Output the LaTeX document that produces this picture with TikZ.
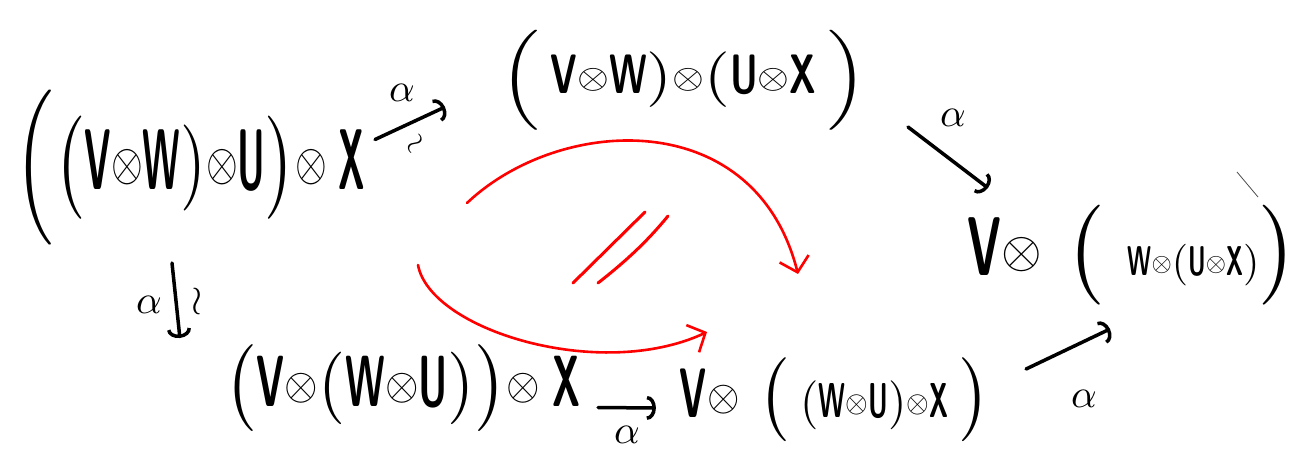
\documentclass[tikz,border=0pt]{standalone}
\usepackage{graphicx}
\usetikzlibrary{arrows.meta,calc}
\newcommand{\nl}[1]{\scalebox{0.55}[1]{\textsf{\bfseries #1}}}
\newcommand{\ot}{\mathord{\vcenter{\hbox{\scalebox{0.62}{$\otimes$}}}}}
\begin{document}
\begin{tikzpicture}[x=1pt,y=-1pt,
  txt/.style={inner sep=0pt, outer sep=0pt},
  arr/.style={line width=3.5pt, line cap=round, -{Arc Barb[length=9pt,width=24pt]}},
  lbl/.style={inner sep=0pt},
  redarr/.style={red, line width=2.6pt, line cap=round, -{Straight Barb[length=14pt,width=30pt]}},
  redline/.style={red, line width=3pt, line cap=round},
  stray/.style={black!70, line width=0.8pt}
]
\useasboundingbox (0,0) rectangle (1312,450);

% objects
\node[txt] (n1) at (190,167.5) {\resizebox*{350pt}{155pt}{$\Bigl(\bigl(\nl{V}\ot\nl{W})\ot\nl{U}\bigr)\ot\,\nl{X}$}};
\node[txt] (n2) at (683.5,80) {\resizebox*{367pt}{100pt}{$\Bigl(\,\nl{V}\ot\nl{W})\ot(\nl{U}\ot\nl{X}\,\Bigr)$}};
\node[txt] (n3) at (1133,255) {\resizebox*{330pt}{100pt}{$\nl{V}\ot\;\bigl(\;\scalebox{0.5}{$\nl{W}\ot(\nl{U}\ot\nl{X})$}\bigr)$}};
\node[txt] (n4) at (402.5,388.5) {\resizebox*{355pt}{87pt}{$\bigl(\nl{V}\ot(\nl{W}\ot\nl{U})\bigr)\ot\,\nl{X}$}};
\node[txt] (n5) at (835,400) {\resizebox*{310pt}{84pt}{$\nl{V}\ot\;\bigl(\,\scalebox{0.7}{$(\nl{W}\ot\nl{U})\ot\nl{X}$}\,\bigr)$}};

% black connectors
\draw[arr] ([shift={(10,-28)}]n1.east) -- ([shift={(-55,27)}]n2.west)
  node[lbl, midway, xshift=-8pt, yshift=30pt] {\scalebox{4}{$\alpha$}}
  node[lbl, midway, xshift=7pt, yshift=-22pt, rotate=50] {\scalebox{3}{$\sim$}};
\draw[arr] ([shift={(41,-3)}]n2.south east) -- ([shift={(20,-17)}]n3.north west)
  node[lbl, midway, xshift=5pt, yshift=40pt] {\scalebox{4}{$\alpha$}};
\draw[arr] ([shift={(-18,18)}]n1.south) -- ([shift={(-45,-7)}]n4.north west)
  node[lbl, midway, xshift=-27pt, yshift=-4pt] {\scalebox{4}{$\alpha$}}
  node[lbl, midway, xshift=21pt, yshift=-1pt] {\scalebox{4}{$\wr$}};
\draw[arr] ([shift={(18,19)}]n4.east) -- ([shift={(-24,8)}]n5.west)
  node[lbl, midway, yshift=-27pt] {\scalebox{4}{$\alpha$}};
\draw[arr] ([shift={(36,-31)}]n5.east) -- ([shift={(-23,24)}]n3.south)
  node[lbl, midway, xshift=16pt, yshift=-50pt] {\scalebox{4}{$\alpha$}};

% stray stroke
\draw[stray] (1237,172) -- (1258,197);

% red 2-cell
\coordinate (u0) at (467,203);
\coordinate (u1) at (798,274);
\coordinate (l0) at (418,265);
\coordinate (l1) at (707,332);
\draw[redarr] (u0) .. controls (560,115) and (755,105) .. (u1);
\draw[redarr] (l0) .. controls (430,330) and (600,382) .. (l1);
\draw[redline] (573,283) -- (645,212);
\draw[redline] (598,283) .. controls (630,258) and (650,238) .. (668,216);
\end{tikzpicture}
\end{document}
